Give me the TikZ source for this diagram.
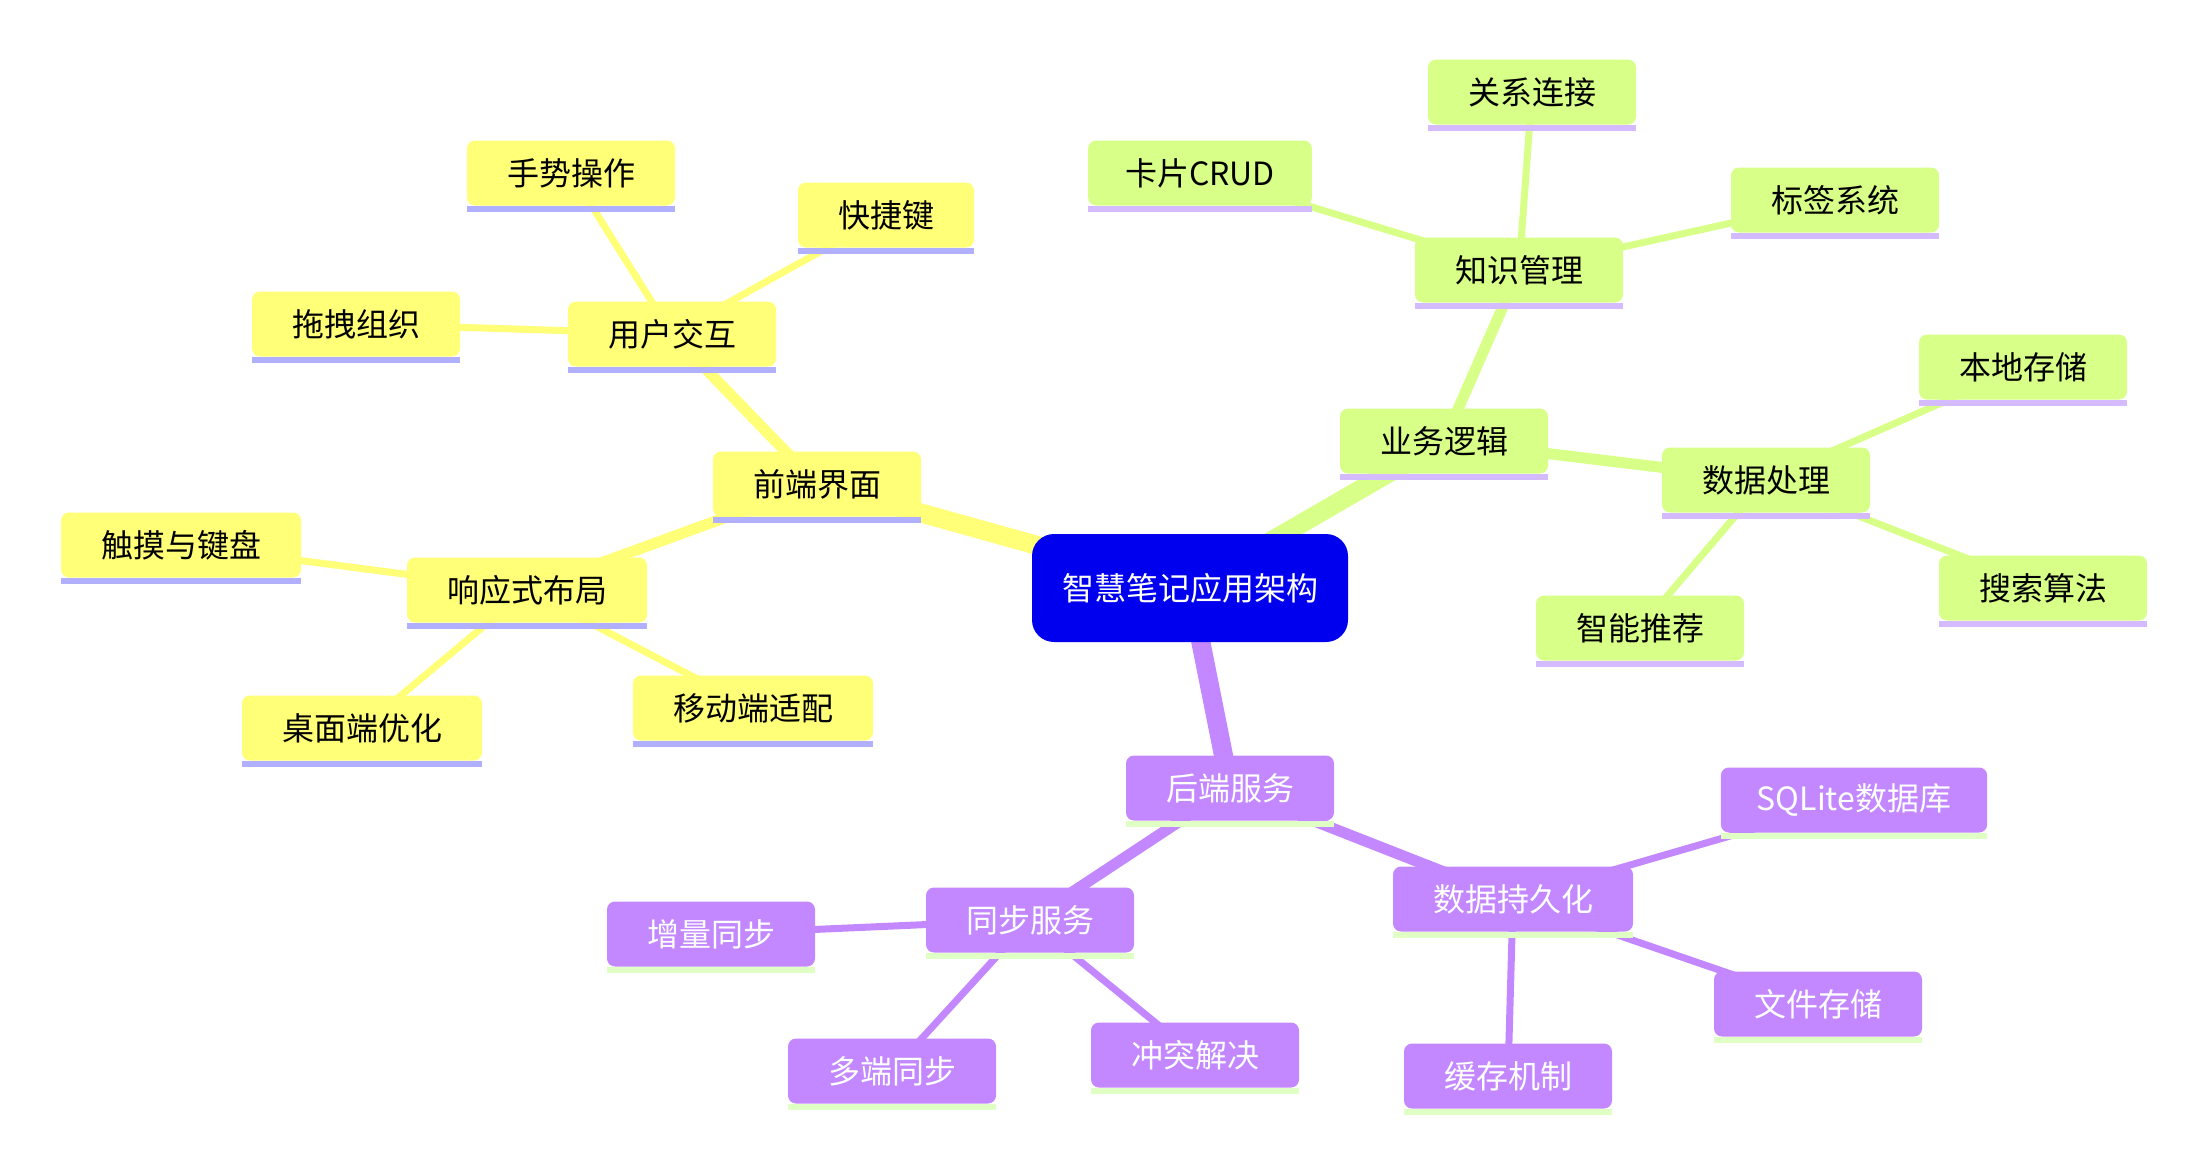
\documentclass[tikz,border=0pt]{standalone}
\usepackage{fontspec}
\newfontfamily\cjk{Noto Sans CJK SC}
\usepackage{tikz}
\pgfdeclarelayer{background}
\pgfsetlayers{background,main}
\definecolor{rootblue}{HTML}{0000EE}
\definecolor{fillYel}{HTML}{FFFF78}
\definecolor{barYel}{HTML}{B0B0FF}
\definecolor{fillGrn}{HTML}{D8FF88}
\definecolor{barGrn}{HTML}{D4BBFF}
\definecolor{fillPur}{HTML}{C388FF}
\definecolor{barPur}{HTML}{E0FFC4}

\begin{document}
\begin{tikzpicture}[x=1pt, y=-1pt,
 every node/.style={font=\cjk\fontsize{32}{38}\selectfont},
box/.style={rectangle, rounded corners=8pt, inner xsep=40pt, inner ysep=0pt, minimum height=65pt},
rootbox/.style={rectangle, rounded corners=22pt, fill=rootblue, text=white, inner xsep=30pt, inner ysep=0pt, minimum height=108pt},
ybox/.style={box, fill=fillYel},
gbox/.style={box, fill=fillGrn},
pbox/.style={box, fill=fillPur, text=white},
lvA/.style={line width=19pt},
lvB/.style={line width=11pt},
lvC/.style={line width=7pt}]

\useasboundingbox (0,0) rectangle (2203,1170);

\node[rootbox] (root) at (1190,588) {智慧笔记应用架构};

% frontend
\node[ybox] (frontend) at (817,484) {前端界面};
\node[ybox] (interact) at (672,334) {用户交互};
\node[ybox] (gesture) at (571,173) {手势操作};
\node[ybox] (shortcut) at (886,215) {快捷键};
\node[ybox] (dragorg) at (356,324) {拖拽组织};
\node[ybox] (responsive) at (527,590) {响应式布局};
\node[ybox] (touchkb) at (181,545) {触摸与键盘};
\node[ybox] (desktop) at (362,728) {桌面端优化};
\node[ybox] (mobile) at (753,708) {移动端适配};

% logic
\node[gbox] (logic) at (1444,441) {业务逻辑};
\node[gbox] (knowledge) at (1519,270) {知识管理};
\node[gbox] (relation) at (1532,92) {关系连接};
\node[gbox, inner xsep=37pt] (card) at (1200,173) {卡片CRUD};
\node[gbox] (tags) at (1835,200) {标签系统};
\node[gbox] (dataproc) at (1766,480) {数据处理};
\node[gbox] (localstore) at (2023,367) {本地存储};
\node[gbox] (search) at (2043,588) {搜索算法};
\node[gbox] (recommend) at (1640,628) {智能推荐};

% backend
\node[pbox] (backend) at (1230,788) {后端服务};
\node[pbox] (sync) at (1030,920) {同步服务};
\node[pbox] (incsync) at (711,934) {增量同步};
\node[pbox] (multisync) at (892,1071) {多端同步};
\node[pbox] (conflict) at (1195,1055) {冲突解决};
\node[pbox] (persist) at (1513,899) {数据持久化};
\node[pbox, inner xsep=36pt] (sqlite) at (1854,800) {SQLite数据库};
\node[pbox] (filestore) at (1818,1004) {文件存储};
\node[pbox] (cache) at (1508,1076) {缓存机制};

% bottom bars
\foreach \n in {frontend,interact,gesture,shortcut,dragorg,responsive,touchkb,desktop,mobile}
  \fill[barYel] (\n.south west) rectangle ([yshift=-6pt]\n.south east);
\foreach \n in {logic,knowledge,relation,card,tags,dataproc,localstore,search,recommend}
  \fill[barGrn] (\n.south west) rectangle ([yshift=-6pt]\n.south east);
\foreach \n in {backend,sync,incsync,multisync,conflict,persist,sqlite,filestore,cache}
  \fill[barPur] (\n.south west) rectangle ([yshift=-6pt]\n.south east);

\begin{pgfonlayer}{background}
\draw[fillYel, lvA] (root.center) -- (frontend.center);
\draw[fillYel, lvB] (frontend.center) -- (interact.center);
\draw[fillYel, lvB] (frontend.center) -- (responsive.center);
\draw[fillYel, lvC] (interact.center) -- (gesture.center);
\draw[fillYel, lvC] (interact.center) -- (shortcut.center);
\draw[fillYel, lvC] (interact.center) -- (dragorg.center);
\draw[fillYel, lvC] (responsive.center) -- (touchkb.center);
\draw[fillYel, lvC] (responsive.center) -- (desktop.center);
\draw[fillYel, lvC] (responsive.center) -- (mobile.center);

\draw[fillGrn, lvA] (root.center) -- (logic.center);
\draw[fillGrn, lvB] (logic.center) -- (knowledge.center);
\draw[fillGrn, lvB] (logic.center) -- (dataproc.center);
\draw[fillGrn, lvC] (knowledge.center) -- (relation.center);
\draw[fillGrn, lvC] (knowledge.center) -- (card.center);
\draw[fillGrn, lvC] (knowledge.center) -- (tags.center);
\draw[fillGrn, lvC] (dataproc.center) -- (localstore.center);
\draw[fillGrn, lvC] (dataproc.center) -- (search.center);
\draw[fillGrn, lvC] (dataproc.center) -- (recommend.center);

\draw[fillPur, lvA] (root.center) -- (backend.center);
\draw[fillPur, lvB] (backend.center) -- (sync.center);
\draw[fillPur, lvB] (backend.center) -- (persist.center);
\draw[fillPur, lvC] (sync.center) -- (incsync.center);
\draw[fillPur, lvC] (sync.center) -- (multisync.center);
\draw[fillPur, lvC] (sync.center) -- (conflict.center);
\draw[fillPur, lvC] (persist.center) -- (sqlite.center);
\draw[fillPur, lvC] (persist.center) -- (filestore.center);
\draw[fillPur, lvC] (persist.center) -- (cache.center);
\end{pgfonlayer}

\end{tikzpicture}
\end{document}
